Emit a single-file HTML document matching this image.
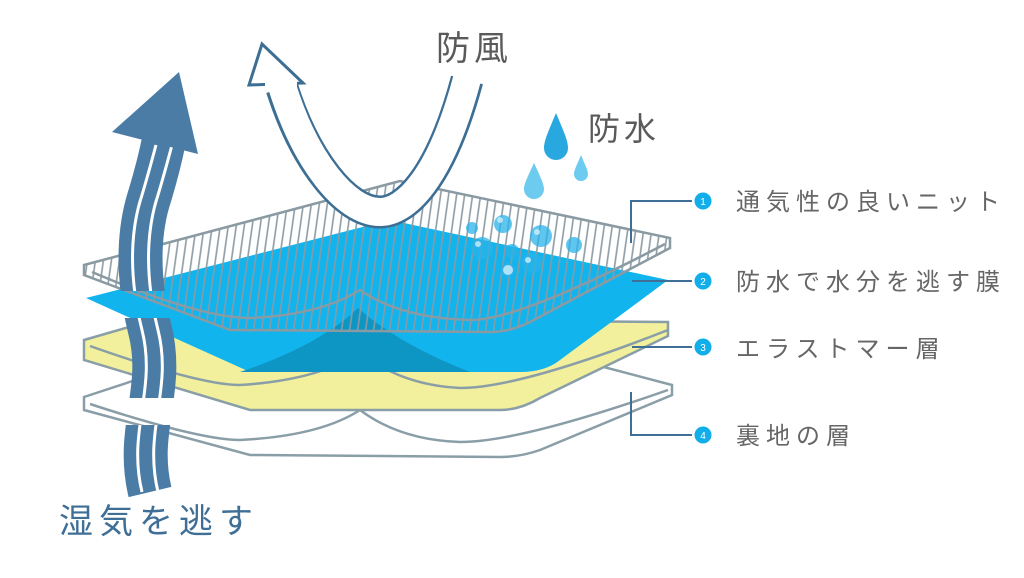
<!DOCTYPE html>
<html><head><meta charset="utf-8"><style>
html,body{margin:0;padding:0;background:#fff}
svg{display:block}
text{font-family:"Liberation Sans","Noto Sans CJK JP",sans-serif}
</style></head><body>
<svg width="1024" height="578" viewBox="0 0 1024 578" xmlns="http://www.w3.org/2000/svg">
<defs>
<pattern id="hatch" width="8" height="10" patternUnits="userSpaceOnUse" patternTransform="skewX(-8)">
<line x1="4" y1="0" x2="4" y2="10" stroke="#8a9aa3" stroke-width="1.6"/>
</pattern>
<clipPath id="shaftclip">
<rect x="0" y="0" width="400" height="291"/>
<rect x="0" y="318" width="400" height="80"/>
<rect x="0" y="425" width="400" height="100"/>
</clipPath>
</defs>
<rect width="1024" height="578" fill="#fff"/>

<path d="M84,397 L160,372 L600,366 L672,385 L672,395 L540,450 Q520,457 500,457 L250,455 L84,410 Z" fill="#fff" stroke="#8a9ea8" stroke-width="2.5"/>
<path d="M90,404 Q200,440 240,440 Q320,436 360,410 Q400,440 460,442 Q520,442 668,390" fill="none" stroke="#8a9ea8" stroke-width="2.5"/>

<path d="M84,340 L160,318 L668,322 L668,336 L540,398 Q520,410 500,410 L250,410 L84,360 Z" fill="#f2f09c" stroke="#8a9ea8" stroke-width="2.5"/>
<path d="M90,346 Q200,385 240,385 Q320,380 360,352 Q400,385 460,388 Q520,388 668,330" fill="none" stroke="#8a9ea8" stroke-width="2.5"/>

<path d="M84,265 L400,181 L670,238 L670,248 L530,322 Q510,332 490,332 L230,330 L84,275 Z" fill="#fff"/>

<path d="M86,298 L390,220 L668,280 L560,360 Q545,372 520,372 L250,372 Z" fill="#12b4ee"/>
<path d="M240,372 Q320,345 358,308 Q400,345 470,372 Z" fill="#0d95c4"/>

<path d="M84,265 L400,181 L670,238 L670,248 L530,322 Q510,332 490,332 L230,330 L84,275 Z" fill="url(#hatch)" stroke="#8a9aa3" stroke-width="2.5"/>
<path d="M92,272 Q200,318 250,318 Q320,315 360,290 Q400,318 470,320 Q520,320 665,244" fill="none" stroke="#8a9aa3" stroke-width="2.5"/>

<g fill="#29b3ea" opacity="0.75">
<circle cx="472" cy="228" r="6"/><circle cx="503" cy="224" r="9"/><circle cx="541" cy="236" r="11"/>
<circle cx="574" cy="245" r="8"/><circle cx="482" cy="248" r="11"/><circle cx="512" cy="251" r="7"/>
<circle cx="532" cy="263" r="10"/><circle cx="508" cy="270" r="7"/>
</g>
<g fill="#cfeefb" opacity="0.8">
<circle cx="500" cy="220" r="3"/><circle cx="537" cy="232" r="3"/><circle cx="478" cy="244" r="3"/><circle cx="508" cy="270" r="5"/><circle cx="528" cy="260" r="3"/>
</g>

<g clip-path="url(#shaftclip)">
<path d="M150,492 C135,430 165,390 150,330 C135,270 140,225 150,195 C156,175 160,160 164,140" fill="none" stroke="#4a7ca6" stroke-width="44"/>
<path d="M142,492 C127,430 157,390 142,330 C127,270 132,225 142,195 C148,175 152,160 156,145" fill="none" stroke="#fff" stroke-width="3"/>
<path d="M158,492 C143,430 173,390 158,330 C143,270 148,225 158,195 C164,175 168,160 172,145" fill="none" stroke="#fff" stroke-width="3"/>
</g>
<polygon points="179,72 112,132 198,154" fill="#4a7ca6"/>

<path d="M467,80 C440,180 405,212 380,212 C345,212 305,160 282,88" fill="none" stroke="#3d6f95" stroke-width="33"/>
<path d="M467,79 C440,180 405,212 380,212 C345,212 305,160 282,86" fill="none" stroke="#fff" stroke-width="28"/>
<polygon points="262,44 249,85 303,83" fill="#fff" stroke="#3d6f95" stroke-width="3"/>
<rect x="265" y="80" width="32" height="8" fill="#fff"/>

<path d="M556,113 C563,130 568,140 568,148 A12,12 0 0 1 544,148 C544,140 549,130 556,113 Z" fill="#29a8e0"/>
<path d="M534,163 C540,176 544,184 544,189 A10,10 0 0 1 524,189 C524,184 528,176 534,163 Z" fill="#6ccbef"/>
<path d="M581,155 C585,165 588,170 588,174 A7,7 0 0 1 574,174 C574,170 577,165 581,155 Z" fill="#6ccbef"/>

<text x="436" y="60" font-size="34" fill="#5a5a5a" letter-spacing="4">防風</text>
<text x="588" y="140" font-size="32" fill="#5a5a5a" letter-spacing="4">防水</text>
<text x="59" y="533" font-size="34" fill="#3f6f96" letter-spacing="6">湿気を逃す</text>

<g stroke="#3f6f96" stroke-width="2" fill="none">
<path d="M631,243 L631,201 L692,201"/>
<path d="M632,281 L692,281"/>
<path d="M632,347 L692,347"/>
<path d="M631,392 L631,435 L692,435"/>
</g>
<g fill="#12aeea">
<circle cx="703" cy="201" r="8.5"/><circle cx="703" cy="281" r="8.5"/><circle cx="703" cy="347" r="8.5"/><circle cx="703" cy="435" r="8.5"/>
</g>
<g fill="#fff" font-size="10" text-anchor="middle">
<text x="703" y="205">1</text><text x="703" y="285">2</text><text x="703" y="351">3</text><text x="703" y="439">4</text>
</g>
<g font-size="24" fill="#666" letter-spacing="6">
<text x="736" y="210">通気性の良いニット</text>
<text x="736" y="290">防水で水分を逃す膜</text>
<text x="736" y="357">エラストマー層</text>
<text x="736" y="444">裏地の層</text>
</g>
</svg>
</body></html>
